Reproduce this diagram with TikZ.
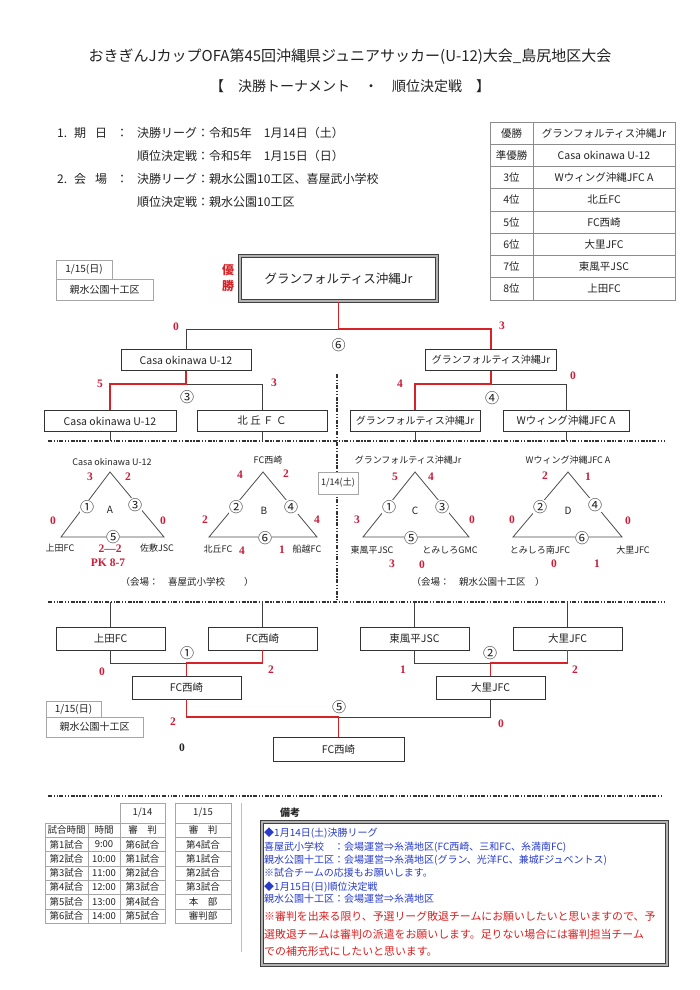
\documentclass[tikz,border=0pt]{standalone}
\usepackage{fontspec}
\setmainfont{Noto Sans CJK JP}
\newfontfamily\numfont{Liberation Serif}
\usetikzlibrary{calc}
\definecolor{scred}{RGB}{200,30,60}
\definecolor{lnred}{RGB}{215,35,40}
\definecolor{noteblue}{RGB}{40,60,200}
\definecolor{notered}{RGB}{220,30,30}
\definecolor{txt}{RGB}{35,35,35}
\newcommand{\fsz}[1]{\fontsize{#1}{#1}\selectfont}
\tikzset{
  box/.style={draw=black!80, line width=0.6pt, inner sep=0pt, minimum height=21pt, font=\fsz{10.5}, text=txt},
  bl/.style={draw=black!75, line width=0.6pt},
  rl/.style={draw=lnred, line width=1.3pt},
  sc/.style={text=scred, font=\numfont\bfseries\fsz{11.5}, inner sep=0pt},
  cn/.style={font=\fsz{14}, inner sep=0pt, fill=white, text=txt},
  dl/.style={line width=1.5pt, draw=black!80, dash pattern=on 4pt off 1.6pt on 1.3pt off 1.6pt on 1.3pt off 1.6pt},
  tri/.style={draw=black!70, line width=0.8pt},
  glab/.style={font=\fsz{9}, inner sep=0pt, text=txt},
  info/.style={font=\fsz{12}, inner sep=0pt, anchor=west, text=txt},
  rk/.style={font=\fsz{10.5}, inner sep=0pt, text=txt},
  dbox/.style={draw=black!35, line width=0.6pt, inner sep=0pt, font=\fsz{10}, text=txt},
  tcell/.style={font=\fsz{9.5}, inner sep=0pt, text=txt},
  note/.style={font=\fsz{10}, inner sep=0pt, anchor=west, text=noteblue},
  notr/.style={font=\fsz{10.9}, inner sep=0pt, anchor=west, text=notered},
  frame/.style={draw=black!75, line width=1pt, double=black!30, double distance=1.2pt},
}
\begin{document}
\begin{tikzpicture}[x=1pt,y=-1pt]
\useasboundingbox (0,0) rectangle (700,990);
\fill[white] (0,0) rectangle (700,990);

% ---------- title ----------
\node[font=\fsz{15}, text=txt] (title1) at (350,57) {おきぎんJカップOFA第45回沖縄県ジュニアサッカー(U-12)大会\_島尻地区大会};
\node[font=\fsz{14}, text=txt] (title2) at (350,86) {【　決勝トーナメント　・　順位決定戦　】};

% ---------- info ----------
\node[info] (i1) at (57,133) {1.\hspace{7pt}期\hspace{9pt}日\hspace{9pt}：};
\node[info] (i1b) at (137,133) {決勝リーグ：令和5年　1月14日（土）};
\node[info] (i2b) at (137,156) {順位決定戦：令和5年　1月15日（日）};
\node[info] (i3) at (57,179) {2.\hspace{7pt}会\hspace{9pt}場\hspace{9pt}：};
\node[info] (i3b) at (137,179) {決勝リーグ：親水公園10工区、喜屋武小学校};
\node[info] (i4b) at (137,202) {順位決定戦：親水公園10工区};

% ---------- ranking table ----------
\draw[black!45, line width=0.7pt] (490,122) rectangle (675,300);
\foreach \k in {1,...,7} \draw[black!45, line width=0.7pt] (490,{122+22.25*\k}) -- (675,{122+22.25*\k});
\draw[black!45, line width=0.7pt] (533,122) -- (533,300);
\foreach \lab/\team [count=\i] in {優勝/グランフォルティス沖縄Jr,準優勝/Casa okinawa U-12,3位/Wウィング沖縄JFC A,4位/北丘FC,5位/FC西崎,6位/大里JFC,7位/東風平JSC,8位/上田FC}{
  \node[rk] (rka\i) at (511.5,{122+22.25*\i-11.1}) {\lab};
  \node[rk] (rkb\i) at (604,{122+22.25*\i-11.1}) {\team};
}

% ---------- date box top ----------
\node[dbox, minimum width=56pt, minimum height=19pt] (dt1) at (84,269.5) {1/15(日)};
\node[dbox, minimum width=97pt, minimum height=21pt] (dt2) at (104.5,289.5) {親水公園十工区};

% ---------- final bracket ----------
\node[text=lnred, font=\fontsize{12}{16}\selectfont\bfseries, align=center, inner sep=0pt] (yusho) at (228,278) {優\\勝};
\node[frame, minimum width=197pt, minimum height=45pt, font=\fsz{12.5}, text=txt, inner sep=0pt] (champ) at (338.5,278.5) {グランフォルティス沖縄Jr};

\node[box, minimum width=130pt] (sfL) at (186,360) {Casa okinawa U-12};
\node[box, minimum width=131pt, font=\fsz{10}] (sfR) at (491,360) {グランフォルティス沖縄Jr};
\node[box, minimum width=132pt] (qf1) at (110,421) {Casa okinawa U-12};
\node[box, minimum width=130pt] (qf2) at (262,421) {北 丘 Ｆ Ｃ};
\node[box, minimum width=130pt, font=\fsz{10}] (qf3) at (415,421) {グランフォルティス沖縄Jr};
\node[box, minimum width=126pt] (qf4) at (566,421) {Wウィング沖縄JFC A};

\coordinate (j6) at (338.5,329);
\coordinate (j3) at (186,384);
\coordinate (j4) at (491,384);
\draw[bl] (j6) -| (sfL.north);
\draw[rl] (champ.south) -- (j6) -| (sfR.north);
\draw[bl] (j3) -| (qf2.north);
\draw[rl] (sfL.south) -- (j3) -| (qf1.north);
\draw[bl] (j4) -| (qf4.north);
\draw[rl] (sfR.south) -- (j4) -| (qf3.north);

\node[sc] (s6a) at (176,327) {0};
\node[sc] (s6b) at (502,326) {3};
\node[cn, fill=none] (m6) at (338.5,345) {⑥};
\node[sc] (s3a) at (100,384) {5};
\node[sc] (s3b) at (274,383) {3};
\node[cn, fill=none] (m3) at (187,397) {③};
\node[sc] (s4a) at (400,384) {4};
\node[sc] (s4b) at (573,376) {0};
\node[cn, fill=none] (m4) at (492,398) {④};

% ---------- dash-dot separators ----------
\coordinate (d1L) at (48,441);
\coordinate (d1R) at (665,441);
\coordinate (d2L) at (48,602);
\coordinate (d2R) at (665,602);
\coordinate (d3L) at (48,796);
\coordinate (d3R) at (662,796);
\coordinate (dvT) at (337,374);
\coordinate (dvB) at (337,602);
\draw[dl] (d1L) -- (d1R);
\draw[dl] (d2L) -- (d2R);
\draw[dl] (d3L) -- (d3R);
\draw[dl] (dvT) -- (dvB);
\draw[bl] (qf1.south) -- (qf1.south |- d1L);
\draw[bl] (qf2.south) -- (qf2.south |- d1L);
\draw[bl] (qf3.south) -- (qf3.south |- d1L);
\draw[bl] (qf4.south) -- (qf4.south |- d1L);

\node[draw=black!35, fill=white, minimum width=40pt, minimum height=22pt, inner sep=0pt, font=\fsz{9}, text=txt] (d14) at (338,483) {1/14(土)};

% ---------- group A ----------
\draw[tri] (110,472) -- (61,537) -- (164,537) -- cycle;
\node[glab] (gAt) at (112,462) {Casa okinawa U-12};
\node[sc] (gA1) at (90,477) {3};
\node[sc] (gA2) at (128,477) {2};
\node[cn] (gAc1) at (87,507) {①};
\node[glab, font=\fsz{10}] (gAn) at (110,510) {A};
\node[cn] (gAc3) at (135,505) {③};
\node[sc] (gA3) at (53,521) {0};
\node[sc] (gA4) at (163,521) {0};
\node[cn] (gAc5) at (113,537) {⑤};
\node[glab] (gAl) at (60,548) {上田FC};
\node[sc] (gA5) at (110,549) {2—2};
\node[glab] (gAr) at (157,548) {佐敷JSC};
\node[sc] (gApk) at (108,563) {PK 8-7};
\node[glab, font=\fsz{9.5}] (gAv) at (187,582) {（会場：　喜屋武小学校　　）};

% ---------- group B ----------
\draw[tri] (263,472) -- (209,537) -- (317,537) -- cycle;
\node[glab] (gBt) at (268,460) {FC西崎};
\node[sc] (gB1) at (240,475) {4};
\node[sc] (gB2) at (286,474) {2};
\node[cn] (gBc2) at (236,507) {②};
\node[glab, font=\fsz{10}] (gBn) at (264,511) {B};
\node[cn] (gBc4) at (291,507) {④};
\node[sc] (gB3) at (205,520) {2};
\node[sc] (gB4) at (317,520) {4};
\node[cn] (gBc6) at (265,538) {⑥};
\node[glab] (gBl) at (218,549) {北丘FC};
\node[sc] (gB5) at (242,551) {4};
\node[sc] (gB6) at (282,550) {1};
\node[glab] (gBr) at (307,549) {船越FC};

% ---------- group C ----------
\draw[tri] (415,472) -- (363,537) -- (469,537) -- cycle;
\node[glab] (gCt) at (408,460) {グランフォルティス沖縄Jr};
\node[sc] (gC1) at (395,477) {5};
\node[sc] (gC2) at (431,477) {4};
\node[cn] (gCc1) at (389,507) {①};
\node[glab, font=\fsz{10}] (gCn) at (415,511) {C};
\node[cn] (gCc3) at (442,507) {③};
\node[sc] (gC3) at (357,520) {3};
\node[sc] (gC4) at (472,520) {0};
\node[cn] (gCc5) at (411,538) {⑤};
\node[glab] (gCl) at (372,550) {東風平JSC};
\node[glab] (gCr) at (450,550) {とみしろGMC};
\node[sc] (gC5) at (392,564) {3};
\node[sc] (gC6) at (422,565) {0};
\node[glab, font=\fsz{9.5}] (gCv) at (478,582) {（会場：　親水公園十工区　）};

% ---------- group D ----------
\draw[tri] (568,472) -- (513,537) -- (622,537) -- cycle;
\node[glab] (gDt) at (568,460) {Wウィング沖縄JFC A};
\node[sc] (gD1) at (545,476) {2};
\node[sc] (gD2) at (588,477) {1};
\node[cn] (gDc2) at (540,507) {②};
\node[glab, font=\fsz{10}] (gDn) at (568,511) {D};
\node[cn] (gDc4) at (595,505) {④};
\node[sc] (gD3) at (512,520) {0};
\node[sc] (gD4) at (628,521) {0};
\node[cn] (gDc6) at (582,538) {⑥};
\node[glab] (gDl) at (540,550) {とみしろ南JFC};
\node[glab] (gDr) at (633,550) {大里JFC};
\node[sc] (gD5) at (554,564) {0};
\node[sc] (gD6) at (597,564) {1};

% ---------- placement bracket ----------
\node[box, minimum width=109pt, minimum height=23pt] (p1) at (110.5,638.5) {上田FC};
\node[box, minimum width=109pt, minimum height=23pt] (p2) at (262.5,638.5) {FC西崎};
\node[box, minimum width=109pt, minimum height=23pt] (p3) at (414.5,638.5) {東風平JSC};
\node[box, minimum width=109pt, minimum height=23pt] (p4) at (567.5,638.5) {大里JFC};
\node[box, minimum width=109pt, minimum height=23pt] (w1) at (186.5,687.5) {FC西崎};
\node[box, minimum width=109pt, minimum height=23pt] (w2) at (490.5,687.5) {大里JFC};
\node[box, minimum width=131pt, minimum height=24pt] (fin) at (338.5,749.5) {FC西崎};

\draw[bl] (p1.north |- d2L) -- (p1.north);
\draw[bl] (p2.north |- d2L) -- (p2.north);
\draw[bl] (p3.north |- d2L) -- (p3.north);
\draw[bl] (p4.north |- d2L) -- (p4.north);

\coordinate (k1) at (186.5,663);
\coordinate (k2) at (490.5,663);
\coordinate (k5) at (338.5,717);
\draw[bl] (p1.south) |- (k1);
\draw[rl] (p2.south) |- (k1) -- (w1.north);
\draw[bl] (p3.south) |- (k2);
\draw[rl] (p4.south) |- (k2) -- (w2.north);
\draw[bl] (w2.south) |- (k5);
\draw[rl] (w1.south) |- (k5) -- (fin.north);

\node[cn, fill=none] (mm1) at (187,653) {①};
\node[sc] (q1a) at (102,672) {0};
\node[sc] (q1b) at (271,670) {2};
\node[cn, fill=none] (mm2) at (490,653) {②};
\node[sc] (q2a) at (403,670) {1};
\node[sc] (q2b) at (575,670) {2};
\node[cn, fill=none] (mm5) at (339,707) {⑤};
\node[sc] (q5a) at (173,722) {2};
\node[sc] (q5b) at (501,724) {0};
\node[sc, text=txt] (q5c) at (182,748) {0};

\node[dbox, minimum width=55pt, minimum height=16pt] (dt3) at (73.5,709.5) {1/15(日)};
\node[dbox, minimum width=97pt, minimum height=20pt] (dt4) at (94.5,727) {親水公園十工区};

% ---------- schedule tables ----------
\node[tcell, draw=black!35, minimum width=45pt, minimum height=20pt] (h14) at (142.5,813) {1/14};
\node[tcell, draw=black!35, minimum width=56pt, minimum height=20pt] (h15) at (203,813) {1/15};
\foreach \a/\b/\c/\d [count=\r from 0] in {試合時間/時間/審　判/審　判,第1試合/9:00/第6試合/第4試合,第2試合/10:00/第1試合/第1試合,第3試合/11:00/第2試合/第2試合,第4試合/12:00/第3試合/第3試合,第5試合/13:00/第4試合/本　部,第6試合/14:00/第5試合/審判部}{
  \node[tcell, draw=black!35, minimum width=43pt, minimum height=14.3pt] (ta\r) at (66.5,{830.15+14.3*\r}) {\a};
  \node[tcell, draw=black!35, minimum width=32pt, minimum height=14.3pt] (tb\r) at (104,{830.15+14.3*\r}) {\b};
  \node[tcell, draw=black!35, minimum width=45pt, minimum height=14.3pt] (tc\r) at (142.5,{830.15+14.3*\r}) {\c};
  \node[tcell, draw=black!35, minimum width=56pt, minimum height=14.3pt] (td\r) at (203,{830.15+14.3*\r}) {\d};
}
\coordinate (vgT) at (241,803);
\coordinate (vgB) at (241,952);
\draw[black!25, line width=0.8pt] (vgT) -- (vgB);

% ---------- notes ----------
\node[font=\fsz{10}\bfseries, text=txt, inner sep=0pt] (bikou) at (290,813) {備考};
\node[frame, minimum width=405pt, minimum height=143pt, inner sep=0pt] (notes) at (464.5,893.5) {};
\node[note] (n1) at (264,833) {◆1月14日(土)決勝リーグ};
\node[note] (n2) at (264,847) {喜屋武小学校　：会場運営⇒糸満地区(FC西崎、三和FC、糸満南FC)};
\node[note] (n3) at (264,860) {親水公園十工区：会場運営⇒糸満地区(グラン、光洋FC、兼城Fジュベントス)};
\node[note] (n4) at (264,873) {※試合チームの応援もお願いします。};
\node[note] (n5) at (264,887) {◆1月15日(日)順位決定戦};
\node[note] (n6) at (264,899) {親水公園十工区：会場運営⇒糸満地区};
\node[notr] (n7) at (264,916) {※審判を出来る限り、予選リーグ敗退チームにお願いしたいと思いますので、予};
\node[notr] (n8) at (264,934) {選敗退チームは審判の派遣をお願いします。足りない場合には審判担当チーム};
\node[notr] (n9) at (264,951) {での補充形式にしたいと思います。};
\end{tikzpicture}
\end{document}
